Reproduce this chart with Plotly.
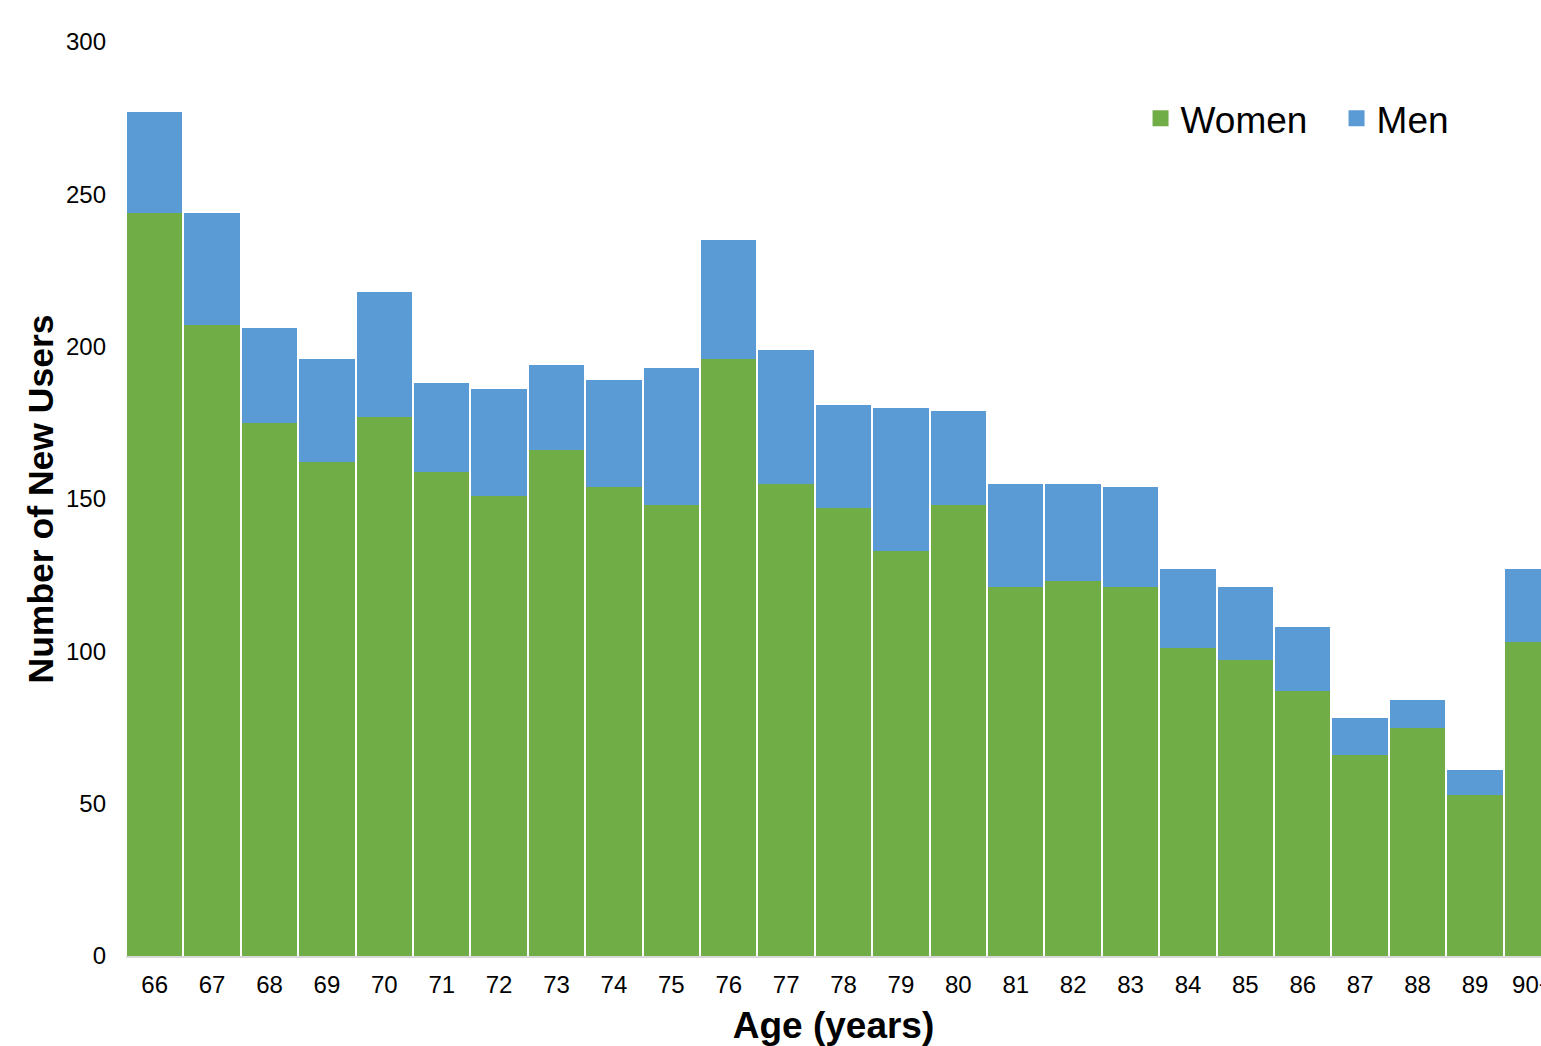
import plotly.graph_objects as go

ages = ["66", "67", "68", "69", "70", "71", "72", "73", "74", "75", "76", "77", "78",
        "79", "80", "81", "82", "83", "84", "85", "86", "87", "88", "89", "90+"]
women = [244, 207, 175, 162, 177, 159, 151, 166, 154, 148, 196, 155, 147,
         133, 148, 121, 123, 121, 101, 97, 87, 66, 75, 53, 103]
men = [33, 37, 31, 34, 41, 29, 35, 28, 35, 45, 39, 44, 34,
       47, 31, 34, 32, 33, 26, 24, 21, 12, 9, 8, 24]
y_ticks = [0, 50, 100, 150, 200, 250, 300]

GREEN = "#70AD47"
BLUE = "#5B9BD5"
FONT = "Liberation Sans, Arial, sans-serif"

fig = go.Figure()
fig.add_trace(go.Bar(x=ages, y=women, name="Women", marker=dict(color=GREEN, line=dict(width=0)),
                     showlegend=False))
fig.add_trace(go.Bar(x=ages, y=men, name="Men", marker=dict(color=BLUE, line=dict(width=0)),
                     showlegend=False))
# legend entries
fig.add_trace(go.Scatter(x=[None], y=[None], mode="markers", name="Women",
                         marker=dict(symbol="square", size=16, color=GREEN)))
fig.add_trace(go.Scatter(x=[None], y=[None], mode="markers", name="Men",
                         marker=dict(symbol="square", size=16, color=BLUE)))

fig.update_layout(
    width=1541, height=1046,
    margin=dict(l=126, r=0, t=42, b=90, autoexpand=False),
    barmode="stack",
    bargap=0.035,
    plot_bgcolor="white",
    paper_bgcolor="white",
    font=dict(family=FONT, color="black"),
    legend=dict(orientation="h", x=0.717, y=0.916, xanchor="left", yanchor="middle",
                traceorder="normal", entrywidth=151,
                font=dict(size=37, family=FONT), bgcolor="rgba(0,0,0,0)"),
    xaxis=dict(
        type="category",
        range=[-0.5, 24.15],
        automargin=False,
        showline=True, linecolor="#D9D9D9", linewidth=2,
        showgrid=False, ticks="", tickfont=dict(size=24),
        ticklabelstandoff=6,
        title=dict(text="<b>Age (years)</b>", font=dict(size=37), standoff=20),
    ),
    yaxis=dict(
        range=[0, 300], tickvals=y_ticks, showgrid=False, showline=False,
        automargin=False,
        zeroline=False, ticks="", tickfont=dict(size=24),
        ticklabelstandoff=19,
        title=dict(text="<b>Number of New Users</b>", font=dict(size=35.5), standoff=1),
    ),
)

fig.write_html(
    "out.html",
    config={"displayModeBar": False},
    post_script="document.body.style.margin='0';document.body.style.overflow='hidden';",
)
